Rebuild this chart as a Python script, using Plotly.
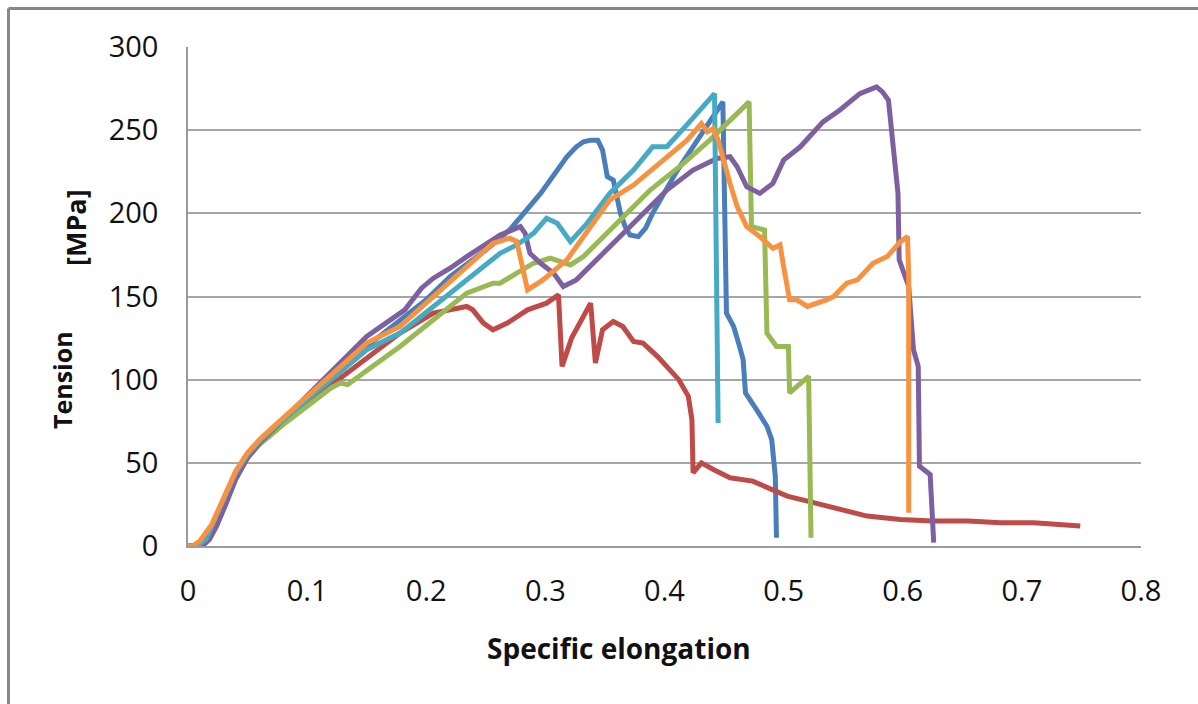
import plotly.graph_objects as go

# ---- data ----
blue_x = [0, 0.008, 0.015, 0.02, 0.03, 0.04, 0.05, 0.06, 0.08, 0.1, 0.12, 0.15, 0.18, 0.2, 0.22, 0.25, 0.27,
          0.296, 0.318, 0.326, 0.332, 0.338, 0.344, 0.348, 0.352, 0.357, 0.363, 0.367, 0.371, 0.378, 0.384,
          0.39, 0.41, 0.427, 0.441, 0.449, 0.452, 0.458, 0.463, 0.466, 0.468, 0.472, 0.479, 0.486, 0.49,
          0.493, 0.494]
blue_y = [0, 0, 4, 12, 28, 44, 55, 63, 76, 88, 100, 120, 137, 148, 162, 178, 190,
          212, 234, 240, 243, 244, 244, 238, 222, 220, 200, 192, 187, 186, 191,
          200, 225, 243, 258, 267, 140, 132, 120, 112, 92, 88, 80, 72, 64,
          42, 5]

red_x = [0, 0.008, 0.015, 0.02, 0.03, 0.04, 0.05, 0.06, 0.08, 0.1, 0.12, 0.145, 0.178, 0.206, 0.234, 0.239,
         0.248, 0.256, 0.268, 0.285, 0.301, 0.311, 0.314, 0.322, 0.338, 0.342, 0.348, 0.357, 0.365, 0.374,
         0.382, 0.394, 0.405, 0.412, 0.42, 0.423, 0.424, 0.431, 0.441, 0.455, 0.474, 0.486, 0.503, 0.52,
         0.542, 0.57, 0.598, 0.625, 0.655, 0.682, 0.71, 0.749]
red_y = [0, 0, 4, 12, 28, 44, 55, 63, 75, 86, 97, 110, 128, 140, 144, 142,
         134, 130, 134, 142, 146, 151, 108, 125, 146, 110, 130, 135, 132, 123,
         122, 114, 106, 100, 90, 76, 44, 50, 46, 41, 39, 35, 30, 27,
         23, 18, 16, 15, 15, 14, 14, 12]

green_x = [0, 0.008, 0.015, 0.02, 0.03, 0.04, 0.05, 0.06, 0.08, 0.1, 0.12, 0.128, 0.134, 0.151, 0.178,
           0.206, 0.234, 0.256, 0.262, 0.276, 0.29, 0.304, 0.321, 0.332, 0.36, 0.388, 0.416, 0.438, 0.471,
           0.473, 0.484, 0.486, 0.494, 0.504, 0.505, 0.521, 0.523]
green_y = [0, 0, 4, 12, 27, 42, 53, 61, 73, 84, 95, 98, 97, 106, 120,
           136, 152, 158, 158, 164, 170, 173, 169, 174, 194, 214, 230, 244, 267,
           192, 190, 128, 120, 120, 92, 102, 5]

purple_x = [0, 0.012, 0.018, 0.024, 0.03, 0.04, 0.05, 0.06, 0.08, 0.1, 0.12, 0.15, 0.182, 0.196, 0.206,
            0.22, 0.234, 0.262, 0.279, 0.283, 0.287, 0.296, 0.307, 0.315, 0.326, 0.346, 0.374, 0.402, 0.424,
            0.444, 0.455, 0.461, 0.469, 0.48, 0.491, 0.5, 0.514, 0.533, 0.547, 0.564, 0.578, 0.583, 0.588,
            0.592, 0.596, 0.597, 0.605, 0.609, 0.613, 0.614, 0.623, 0.626]
purple_y = [0, 0, 4, 12, 22, 40, 53, 62, 76, 90, 104, 126, 142, 155, 161,
            167, 174, 187, 192, 188, 176, 170, 164, 156, 160, 174, 194, 214, 226,
            233, 234, 228, 216, 212, 218, 232, 240, 255, 262, 272, 276, 273, 268,
            242, 212, 172, 156, 118, 108, 48, 43, 2]

aqua_x = [0, 0.008, 0.015, 0.02, 0.03, 0.04, 0.05, 0.06, 0.08, 0.1, 0.12, 0.15, 0.178, 0.206, 0.234,
          0.262, 0.276, 0.29, 0.301, 0.31, 0.321, 0.335, 0.354, 0.374, 0.39, 0.402, 0.421, 0.442, 0.445]
aqua_y = [0, 0, 4, 12, 28, 44, 55, 63, 76, 88, 100, 118, 128, 144, 160,
          176, 181, 188, 197, 194, 183, 194, 212, 226, 240, 240, 255, 272, 74]

orange_x = [0, 0.004, 0.01, 0.02, 0.03, 0.04, 0.05, 0.06, 0.08, 0.1, 0.12, 0.15, 0.178, 0.206, 0.234,
            0.256, 0.27, 0.276, 0.285, 0.298, 0.318, 0.329, 0.34, 0.354, 0.374, 0.396, 0.419, 0.431,
            0.436, 0.441, 0.445, 0.455, 0.461, 0.469, 0.48, 0.491, 0.497, 0.5, 0.505, 0.511, 0.52, 0.536,
            0.542, 0.553, 0.562, 0.575, 0.587, 0.598, 0.604, 0.605, 0.605]
orange_y = [0, 0, 3, 13, 29, 45, 56, 64, 77, 90, 103, 122, 132, 150, 168,
            182, 185, 183, 154, 160, 172, 183, 194, 208, 217, 230, 244, 254,
            249, 251, 244, 218, 204, 192, 186, 179, 181, 168, 148, 148, 144, 148,
            150, 158, 160, 170, 174, 183, 186, 162, 20]

x_ticks = [0, 0.1, 0.2, 0.3, 0.4, 0.5, 0.6, 0.7, 0.8]
x_tick_labels = ["0", "0.1", "0.2", "0.3", "0.4", "0.5", "0.6", "0.7", "0.8"]
y_ticks = [0, 50, 100, 150, 200, 250, 300]
y_tick_labels = ["0", "50", "100", "150", "200", "250", "300"]

series = [
    ("Series1", blue_x, blue_y, "#4A7EBB"),
    ("Series2", red_x, red_y, "#BE4B48"),
    ("Series3", green_x, green_y, "#98B954"),
    ("Series4", purple_x, purple_y, "#7D60A0"),
    ("Series5", aqua_x, aqua_y, "#46AAC5"),
    ("Series6", orange_x, orange_y, "#F69240"),
]

FONT = "Open Sans"

fig = go.Figure()
for name, xs, ys, col in series:
    fig.add_trace(go.Scatter(x=xs, y=ys, mode="lines", name=name,
                             line=dict(color=col, width=5)))

W, H = 1198, 704
L, R, T, B = 188, 57, 47, 158
pw, ph = W - L - R, H - T - B

def px2paper_x(px):
    return (px - L) / pw

def px2paper_y(py):
    return (H - B - py) / ph

fig.update_layout(
    width=W, height=H,
    margin=dict(l=L, r=R, t=T, b=B, pad=0),
    paper_bgcolor="white", plot_bgcolor="white",
    showlegend=False,
    font=dict(family=FONT, color="#1a1a1a"),
    xaxis=dict(range=[0, 0.8], tickvals=x_ticks, ticktext=x_tick_labels,
               showgrid=False, zeroline=False, showline=True, linecolor="#9a9a9a", linewidth=1.5,
               ticks="", tickfont=dict(size=29, family=FONT, color="#111111"),
               ticklabelstandoff=18, fixedrange=True),
    yaxis=dict(range=[0, 300], tickvals=y_ticks, ticktext=y_tick_labels,
               showgrid=True, gridcolor="#a6a6a6", gridwidth=1.5, zeroline=False,
               showline=True, linecolor="#9a9a9a", linewidth=1.5,
               ticks="", tickfont=dict(size=29, family=FONT, color="#111111"),
               ticklabelstandoff=22, fixedrange=True),
    shapes=[
        dict(type="line", xref="paper", yref="paper",
             x0=px2paper_x(8.5), x1=px2paper_x(8.5), y0=px2paper_y(8.5), y1=px2paper_y(720),
             line=dict(color="#878787", width=3)),
        dict(type="line", xref="paper", yref="paper",
             x0=px2paper_x(8.5), x1=px2paper_x(1220), y0=px2paper_y(8.5), y1=px2paper_y(8.5),
             line=dict(color="#878787", width=3)),
    ],
    annotations=[
        dict(text="<b>Specific elongation</b>", xref="paper", yref="paper",
             x=px2paper_x(619), y=px2paper_y(648), xanchor="center", yanchor="middle",
             showarrow=False, font=dict(size=28, family=FONT, color="#111111")),
        dict(text="<b>Tension</b>", xref="paper", yref="paper", textangle=-90,
             x=px2paper_x(62), y=px2paper_y(380), xanchor="center", yanchor="middle",
             showarrow=False, font=dict(size=25, family=FONT, color="#111111")),
        dict(text="<b>[MPa]</b>", xref="paper", yref="paper", textangle=-90,
             x=px2paper_x(75), y=px2paper_y(228), xanchor="center", yanchor="middle",
             showarrow=False, font=dict(size=27, family=FONT, color="#111111")),
    ],
)

fig.write_html("out.html")
